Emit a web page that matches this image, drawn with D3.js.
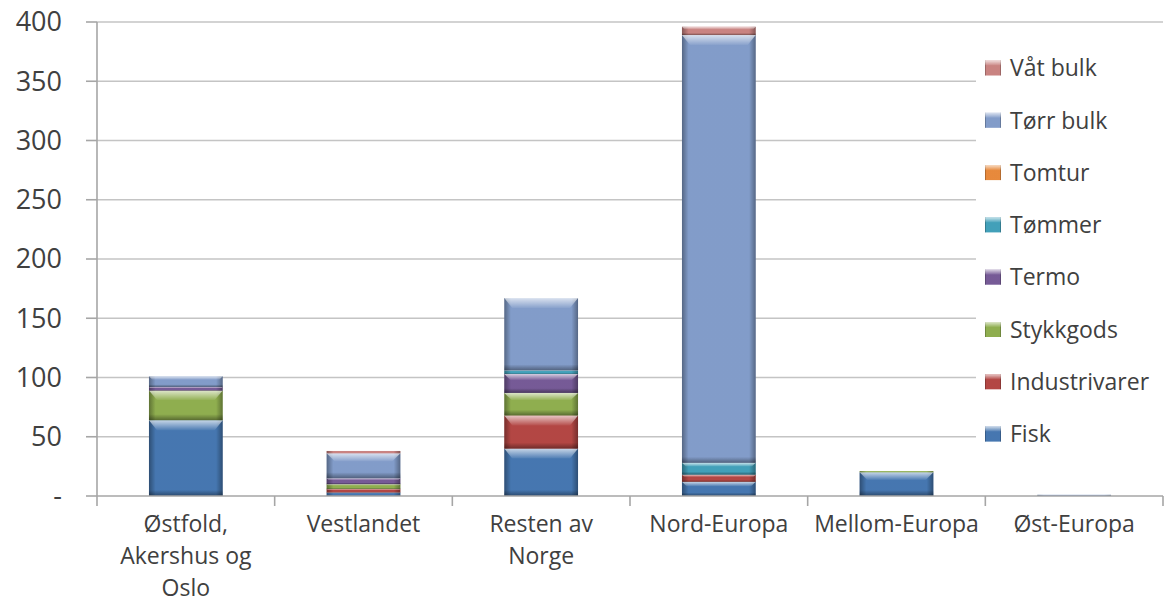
<!DOCTYPE html>
<html>
<head>
<meta charset="utf-8">
<script src="https://cdn.jsdelivr.net/npm/d3@7/dist/d3.min.js"></script>
<style>
  html, body { margin: 0; padding: 0; background: #ffffff; }
  svg { display: block; }
  text { font-family: "Open Sans", "Noto Sans", sans-serif; fill: #404040; }
</style>
</head>
<body>
<svg id="chart" width="1167" height="606"></svg>
<script>
// Regions (line breaks mark how the axis labels wrap)
const categories = [
  "Østfold,\nAkershus og\nOslo",
  "Vestlandet",
  "Resten av\nNorge",
  "Nord-Europa",
  "Mellom-Europa",
  "Øst-Europa"
];

// Cargo segments, stacked bottom to top
const seriesNames = ["Fisk", "Industrivarer", "Stykkgods", "Termo", "Tømmer", "Tomtur", "Tørr bulk", "Våt bulk"];
const fisk          = [64,  3, 40,  12, 20, 0];
const industrivarer = [ 0,  3, 28,   6,  0, 0];
const stykkgods     = [25,  4, 19,   0,  1, 0];
const termo         = [ 3,  5, 16,   0,  0, 0];
const tommer        = [ 0,  0,  3,  10,  0, 0];
const tomtur        = [ 0,  0,  0,   0,  0, 0];
const torrBulk      = [ 9, 21, 61, 361,  0, 1];
const vatBulk       = [ 0,  2,  0,   7,  0, 0];

const yTicks = [0, 50, 100, 150, 200, 250, 300, 350, 400];
const yTickLabels = ["-", "50", "100", "150", "200", "250", "300", "350", "400"];

const colors = ["#4A7EBB", "#BE4B48", "#98B954", "#7D60A0", "#46AAC5", "#F69240", "#8AA6D6", "#D68B89"];

const seriesValues = [fisk, industrivarer, stykkgods, termo, tommer, tomtur, torrBulk, vatBulk];
const rows = categories.map((c, i) => {
  const r = { category: c };
  seriesNames.forEach((s, k) => { r[s] = seriesValues[k][i]; });
  return r;
});

const svg = d3.select("#chart");
const plot = { left: 97, right: 1163, top: 22, bottom: 496 };

const x = d3.scaleBand()
  .domain(categories)
  .range([plot.left, plot.right])
  .paddingInner(0.585)
  .paddingOuter(0.2925);

const y = d3.scaleLinear().domain([0, 400]).range([plot.bottom, plot.top]);

// Gradients for the bevelled bar look
const defs = svg.append("defs");
const gTop = defs.append("linearGradient").attr("id", "hlTop").attr("x1", 0).attr("y1", 0).attr("x2", 0).attr("y2", 1);
gTop.append("stop").attr("offset", 0).attr("stop-color", "#fff").attr("stop-opacity", 0.7);
gTop.append("stop").attr("offset", 1).attr("stop-color", "#fff").attr("stop-opacity", 0.05);
const gBot = defs.append("linearGradient").attr("id", "shBot").attr("x1", 0).attr("y1", 0).attr("x2", 0).attr("y2", 1);
gBot.append("stop").attr("offset", 0).attr("stop-color", "#000").attr("stop-opacity", 0);
gBot.append("stop").attr("offset", 1).attr("stop-color", "#000").attr("stop-opacity", 0.38);
const gSide = defs.append("linearGradient").attr("id", "shSide").attr("x1", 0).attr("y1", 0).attr("x2", 1).attr("y2", 0);
gSide.append("stop").attr("offset", 0).attr("stop-color", "#000").attr("stop-opacity", 0.38);
gSide.append("stop").attr("offset", 0.09).attr("stop-color", "#000").attr("stop-opacity", 0.06);
gSide.append("stop").attr("offset", 0.91).attr("stop-color", "#000").attr("stop-opacity", 0.06);
gSide.append("stop").attr("offset", 1).attr("stop-color", "#000").attr("stop-opacity", 0.38);

// Gridlines
svg.append("g")
  .selectAll("line")
  .data(yTicks.filter(d => d > 0))
  .join("line")
  .attr("x1", plot.left).attr("x2", plot.right)
  .attr("y1", d => y(d)).attr("y2", d => y(d))
  .attr("stroke", "#c4c4c4").attr("stroke-width", 1.6);

// Stacked bars
const stack = d3.stack().keys(seriesNames);
const layers = stack(rows);

const bars = svg.append("g");
layers.forEach((layer, k) => {
  const g = bars.append("g");
  layer.forEach(seg => {
    const v = seg[1] - seg[0];
    if (v <= 0) return;
    const x0 = x(seg.data.category);
    const w = x.bandwidth();
    const yTop = y(seg[1]);
    const h = y(seg[0]) - y(seg[1]);
    g.append("rect").attr("x", x0).attr("y", yTop).attr("width", w).attr("height", h).attr("fill", colors[k]);
    g.append("rect").attr("x", x0).attr("y", yTop).attr("width", w).attr("height", h).attr("fill", "url(#shSide)");
    if (h > 3) {
      const th = Math.min(10, h * 0.32);
      const inset = Math.min(8, th);
      g.append("path")
        .attr("d", `M${x0},${yTop} L${x0 + w},${yTop} L${x0 + w - inset},${yTop + th} L${x0 + inset},${yTop + th} Z`)
        .attr("fill", "url(#hlTop)");
      const bh = Math.min(6, h * 0.25);
      g.append("rect").attr("x", x0).attr("y", yTop + h - bh).attr("width", w).attr("height", bh).attr("fill", "url(#shBot)");
    }
  });
});

// Axes
svg.append("line")
  .attr("x1", plot.left).attr("x2", plot.left)
  .attr("y1", plot.top).attr("y2", plot.bottom)
  .attr("stroke", "#a6a6a6").attr("stroke-width", 1.6);
svg.append("line")
  .attr("x1", plot.left).attr("x2", plot.right)
  .attr("y1", plot.bottom).attr("y2", plot.bottom)
  .attr("stroke", "#a6a6a6").attr("stroke-width", 1.6);

// Y ticks and labels
const yAxis = svg.append("g");
yAxis.selectAll("line")
  .data(yTicks)
  .join("line")
  .attr("x1", plot.left - 11).attr("x2", plot.left)
  .attr("y1", d => y(d)).attr("y2", d => y(d))
  .attr("stroke", "#a6a6a6").attr("stroke-width", 1.6);
yAxis.selectAll("text")
  .data(yTicks)
  .join("text")
  .attr("x", 62)
  .attr("y", d => y(d))
  .attr("dy", "0.35em")
  .attr("text-anchor", "end")
  .style("font-size", "27px")
  .text((d, i) => yTickLabels[i]);

// Category tick marks at band boundaries
const step = x.step();
const boundaries = d3.range(categories.length + 1).map(i => plot.left + i * step);
svg.append("g")
  .selectAll("line")
  .data(boundaries)
  .join("line")
  .attr("x1", d => d).attr("x2", d => d)
  .attr("y1", plot.bottom).attr("y2", plot.bottom + 10)
  .attr("stroke", "#a6a6a6").attr("stroke-width", 1.6);

// Category labels
const catG = svg.append("g");
categories.forEach(c => {
  const cx = x(c) + x.bandwidth() / 2;
  const t = catG.append("text")
    .attr("text-anchor", "middle")
    .style("font-size", "23px");
  c.split("\n").forEach((line, i) => {
    t.append("tspan").attr("x", cx).attr("y", 532 + i * 32).text(line);
  });
});

// Legend (sits over the right part of the plot)
const legend = svg.append("g");
legend.append("rect")
  .attr("x", 976).attr("y", 40).attr("width", 190).attr("height", 425)
  .attr("fill", "#ffffff");
const legendOrder = seriesNames.slice().reverse();
legendOrder.forEach((name, i) => {
  const k = seriesNames.indexOf(name);
  const cy = 68 + i * 52.3;
  const sw = legend.append("g");
  sw.append("rect").attr("x", 985).attr("y", cy - 7.5).attr("width", 16).attr("height", 15).attr("fill", colors[k]);
  sw.append("rect").attr("x", 985).attr("y", cy - 7.5).attr("width", 16).attr("height", 15).attr("fill", "url(#shSide)");
  sw.append("rect").attr("x", 985).attr("y", cy - 7.5).attr("width", 16).attr("height", 5).attr("fill", "url(#hlTop)");
  legend.append("text")
    .attr("x", 1010).attr("y", cy).attr("dy", "0.36em")
    .style("font-size", "23px")
    .text(name);
});
</script>
</body>
</html>
